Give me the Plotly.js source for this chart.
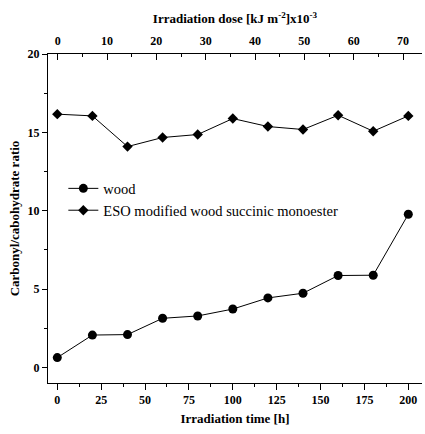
<!DOCTYPE html>
<html>
<head>
<meta charset="utf-8">
<script src="https://cdn.plot.ly/plotly-3.0.1.min.js"></script>
<style>html,body{margin:0;padding:0;background:#fff;}#chart{width:425px;height:434px;}</style>
</head>
<body>
<div id="chart"></div>
<script>
const timeH = [0, 20, 40, 60, 80, 100, 120, 140, 160, 180, 200];
const woodRatio = [0.62, 2.06, 2.09, 3.13, 3.28, 3.72, 4.43, 4.73, 5.86, 5.88, 9.77];
const esoRatio = [16.16, 16.05, 14.09, 14.67, 14.86, 15.88, 15.37, 15.18, 16.09, 15.07, 16.05];
const seriesNames = ["wood", "ESO modified wood succinic monoester"];
const bottomTicks = [0, 25, 50, 75, 100, 125, 150, 175, 200];
const topTicks = [0, 10, 20, 30, 40, 50, 60, 70];
const yTicks = [0, 5, 10, 15, 20];

const serif = "Liberation Serif, Times New Roman, serif";
const tickFont = {family: serif, size: 12, color: "#000", weight: "bold"};
const titleFont = {family: serif, size: 13, color: "#000", weight: "bold"};

const traces = [
  {x: timeH, y: woodRatio, name: seriesNames[0], type: "scatter", mode: "lines+markers",
   line: {color: "#000", width: 1}, marker: {symbol: "circle", size: 9, color: "#000"}},
  {x: timeH, y: esoRatio, name: seriesNames[1], type: "scatter", mode: "lines+markers",
   line: {color: "#000", width: 1}, marker: {symbol: "diamond", size: 8, color: "#000"}},
  // carrier for the top (dose) axis; draws nothing
  {x: topTicks, y: topTicks.map(() => null), xaxis: "x2", yaxis: "y", type: "scatter",
   mode: "markers", showlegend: false, hoverinfo: "skip", marker: {opacity: 0}}
];

const layout = {
  width: 425, height: 434,
  margin: {l: 48, r: 3, t: 54, b: 51},
  paper_bgcolor: "#fff", plot_bgcolor: "#fff",
  showlegend: true,
  legend: {x: 0.041, y: 0.64, xanchor: "left", yanchor: "top",
    font: {family: serif, size: 14.5, color: "#000"}, bgcolor: "rgba(0,0,0,0)"},
  xaxis: {
    range: [-5.3, 207.8], tickvals: bottomTicks, ticktext: bottomTicks.map(String),
    showgrid: false, zeroline: false, showline: true, linecolor: "#000", linewidth: 1,
    ticks: "outside", ticklen: 6, tickwidth: 1, tickcolor: "#000",
    minor: {dtick: 12.5, tick0: 0, ticks: "outside", ticklen: 3, tickcolor: "#000", showgrid: false},
    tickfont: tickFont,
    title: {text: "Irradiation time [h]", font: titleFont, standoff: 7}
  },
  xaxis2: {
    overlaying: "x", side: "top", anchor: "y",
    range: [-1.97, 73.85], tickvals: topTicks, ticktext: topTicks.map(String),
    showgrid: false, zeroline: false, showline: true, linecolor: "#000", linewidth: 1,
    ticks: "inside", ticklen: 6, tickwidth: 1, tickcolor: "#000",
    minor: {dtick: 5, tick0: 0, ticks: "inside", ticklen: 3, tickcolor: "#000", showgrid: false},
    tickfont: tickFont, ticklabelstandoff: 3,
    title: {text: "Irradiation dose [kJ m<sup>-2</sup>]x10<sup>-3</sup>", font: titleFont, standoff: 7}
  },
  yaxis: {
    range: [-1, 20], tickvals: yTicks, ticktext: yTicks.map(String),
    showgrid: false, zeroline: false, showline: true, linecolor: "#000", linewidth: 1,
    ticks: "outside", ticklen: 5, tickwidth: 1, tickcolor: "#000",
    minor: {dtick: 2.5, tick0: 0, ticks: "outside", ticklen: 3, tickcolor: "#000", showgrid: false},
    tickfont: tickFont,
    title: {text: "Carbonyl/cabohydrate ratio", font: titleFont, standoff: 5}
  }
};

Plotly.newPlot("chart", traces, layout, {staticPlot: true, displayModeBar: false});
</script>
</body>
</html>
